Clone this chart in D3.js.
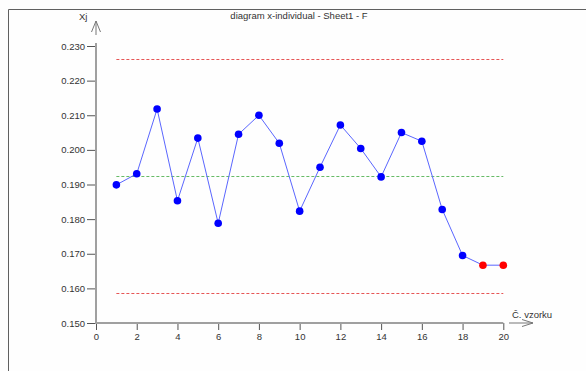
<!DOCTYPE html>
<html>
<head>
<meta charset="utf-8">
<script src="https://cdn.jsdelivr.net/npm/d3@7/dist/d3.min.js"></script>
<style>
  html, body { margin: 0; padding: 0; background: #fefefe; }
  svg { display: block; }
  text { font-family: "Liberation Sans", Arial, sans-serif; fill: #333; }
</style>
</head>
<body>
<svg id="chart" width="586" height="371"></svg>
<script>
// Individual values (x-individual chart), sample number 1..20
const samples = d3.range(1, 21);
const values = [0.1899, 0.1931, 0.2118, 0.1853, 0.2034, 0.1788, 0.2045, 0.2100, 0.2019, 0.1823,
                0.1950, 0.2072, 0.2004, 0.1922, 0.2050, 0.2025, 0.1828, 0.1695, 0.1667, 0.1667];
// Points flagged by the run rule
const flagged = [false, false, false, false, false, false, false, false, false, false,
                 false, false, false, false, false, false, false, false, true, true];
const centerLine = 0.1924;
const upperLimit = 0.2262;
const lowerLimit = 0.1586;
const yTicks = [0.150, 0.160, 0.170, 0.180, 0.190, 0.200, 0.210, 0.220, 0.230];
const xTicks = [0, 2, 4, 6, 8, 10, 12, 14, 16, 18, 20];
const title = "diagram x-individual - Sheet1 - F";
const yLabel = "Xj";
const xLabel = "Č. vzorku";

const svg = d3.select("#chart");

// window frame
svg.append("path")
  .attr("d", "M8.5,371 V9.5 H586")
  .attr("fill", "none").attr("stroke", "#606060").attr("stroke-width", 1);

const x = d3.scaleLinear().domain([0, 20]).range([96, 503.3]);
const y = d3.scaleLinear().domain([0.150, 0.230]).range([323, 46]);

// title and axis names
svg.append("text").attr("x", 299).attr("y", 19).attr("text-anchor", "middle")
  .style("font-size", "9.5px").text(title);
svg.append("text").attr("x", 79).attr("y", 20)
  .style("font-size", "9.5px").text(yLabel);
svg.append("text").attr("x", 512).attr("y", 318)
  .style("font-size", "9.5px").text(xLabel);

// y axis
const yAxis = d3.axisLeft(y).tickValues(yTicks).tickFormat(d3.format(".3f"))
  .tickSize(9).tickPadding(2);
const gy = svg.append("g").attr("transform", "translate(96,0)").call(yAxis);
gy.select(".domain").remove();
gy.selectAll(".tick line").attr("stroke", "#555").attr("x2", -9).attr("x1", 0);
gy.selectAll(".tick text").style("font-size", "9.5px").style("font-family", "Liberation Sans, Arial, sans-serif").attr("fill", "#333");

// x axis
const xAxis = d3.axisBottom(x).tickValues(xTicks).tickSize(7).tickPadding(3);
const gx = svg.append("g").attr("transform", "translate(0,323)").call(xAxis);
gx.select(".domain").remove();
gx.selectAll(".tick line").attr("stroke", "#555");
gx.selectAll(".tick text").style("font-size", "9.5px").style("font-family", "Liberation Sans, Arial, sans-serif").attr("fill", "#333");

// axis lines with open arrows
const axisColor = "#a0a0a0";
svg.append("line").attr("x1", 96).attr("x2", 96).attr("y1", 43).attr("y2", y(0.150) + 1)
  .attr("stroke", axisColor).attr("stroke-width", 2);
svg.append("line").attr("x1", 95).attr("x2", x(20)).attr("y1", 323).attr("y2", 323)
  .attr("stroke", axisColor).attr("stroke-width", 2);
svg.append("path").attr("d", "M96,35 V21 M91.5,32 L96,21 L100.5,32")
  .attr("fill", "none").attr("stroke", "#777").attr("stroke-width", 1);
svg.append("path").attr("d", "M509,323 H533 M522,319.5 L533,323 L522,326.5")
  .attr("fill", "none").attr("stroke", "#777").attr("stroke-width", 1);

// control lines
const refLines = [
  { v: upperLimit, c: "#e65555" },
  { v: lowerLimit, c: "#e65555" },
  { v: centerLine, c: "#66bb66" }
];
svg.selectAll(".ref").data(refLines).enter().append("line")
  .attr("x1", x(1)).attr("x2", x(20))
  .attr("y1", d => Math.round(y(d.v)) + 0.5).attr("y2", d => Math.round(y(d.v)) + 0.5)
  .attr("stroke", d => d.c).attr("stroke-width", 1)
  .attr("stroke-dasharray", "3,2");

// data line
const pts = samples.map((s, i) => ({ s, v: values[i], f: flagged[i] }));
svg.append("path").datum(pts)
  .attr("d", d3.line().x(d => x(d.s)).y(d => y(d.v)))
  .attr("fill", "none").attr("stroke", "#5a66ff").attr("stroke-width", 1);

svg.selectAll(".pt").data(pts).enter().append("circle")
  .attr("cx", d => x(d.s)).attr("cy", d => y(d.v)).attr("r", 3.8)
  .attr("fill", d => d.f ? "#ff0000" : "#0000ff");
</script>
</body>
</html>
